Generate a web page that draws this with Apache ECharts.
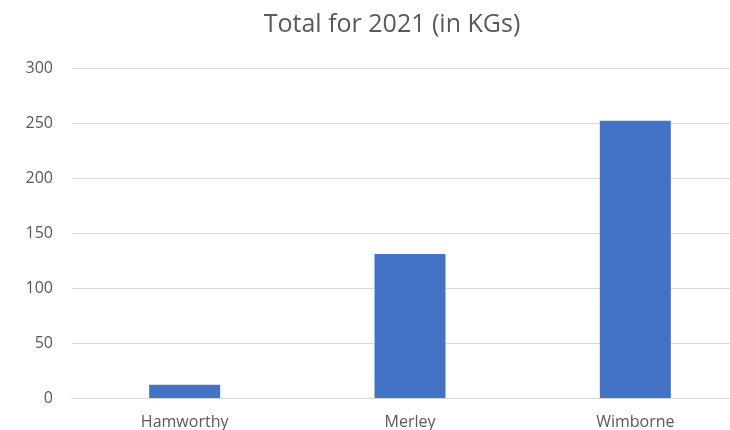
<!DOCTYPE html>
<html><head><meta charset="utf-8">
<script src="https://cdn.jsdelivr.net/npm/echarts@6/dist/echarts.min.js"></script>
<style>html,body{margin:0;padding:0;background:#fff;overflow:hidden;width:730px;height:430px}#c{width:748px;height:430px}</style>
</head><body><div id="c"></div>
<script>
const categories = ['Hamworthy', 'Merley', 'Wimborne'];
const totals = [12, 131, 252];
const yTicks = { min: 0, max: 300, interval: 50 };
const titleText = 'Total for 2021 (in KGs)';

const chart = echarts.init(document.getElementById('c'), null, { renderer: 'canvas' });
chart.setOption({
  animation: false,
  backgroundColor: '#ffffff',
  title: {
    text: titleText, left: 387, top: 7, textAlign: 'center',
    textStyle: { fontFamily: 'Open Sans', fontSize: 25, fontWeight: 'normal', color: '#595959' }
  },
  grid: { left: 72, right: 0, top: 68, height: 330, containLabel: false },
  xAxis: {
    type: 'category', data: categories,
    axisLine: { lineStyle: { color: '#d9d9d9' } },
    axisTick: { show: false },
    axisLabel: { color: '#595959', fontFamily: 'Open Sans', fontSize: 16, margin: 16 }
  },
  yAxis: {
    type: 'value', min: yTicks.min, max: yTicks.max, interval: yTicks.interval,
    axisLine: { show: false }, axisTick: { show: false },
    splitLine: { lineStyle: { color: '#d9d9d9' } },
    axisLabel: { color: '#595959', fontFamily: 'Open Sans', fontSize: 16, margin: 19 }
  },
  series: [{
    type: 'bar', data: totals, barWidth: 71,
    itemStyle: { color: '#4472c4' }
  }]
});
</script></body></html>
